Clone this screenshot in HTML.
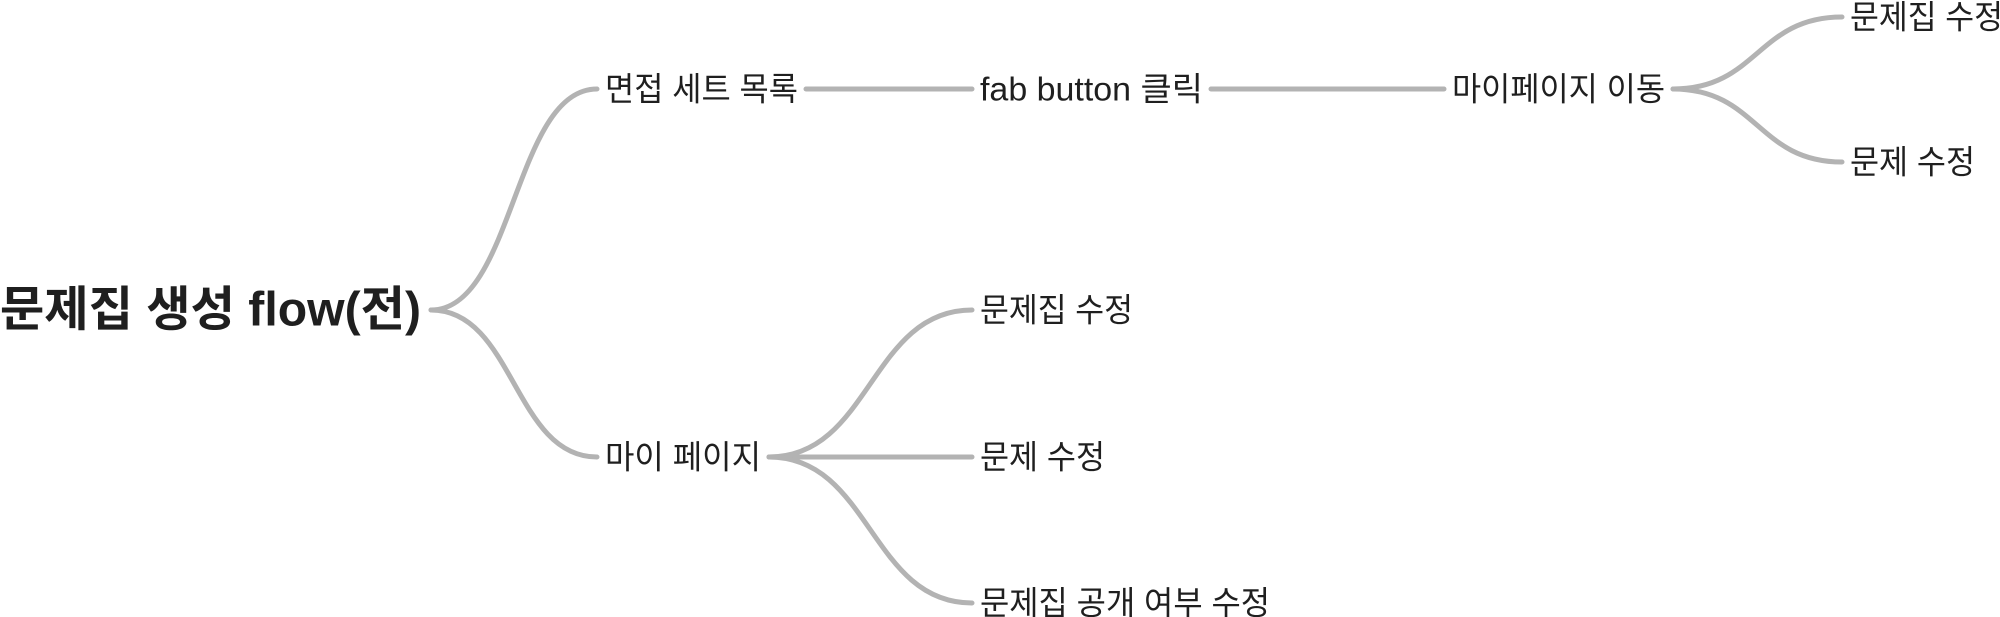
<!DOCTYPE html>
<html><head><meta charset="utf-8"><style>
html,body{margin:0;padding:0;background:#fff;width:2000px;height:617px;overflow:hidden}
svg{display:block}
text{font-family:"Liberation Sans","Noto Sans CJK KR",sans-serif;fill:#1f1f1f;dominant-baseline:central}
</style></head><body>
<svg id="map" width="2000" height="617" viewBox="0 0 2000 617" xmlns="http://www.w3.org/2000/svg">
<text x="0" y="310" font-size="48" font-weight="bold" textLength="421" lengthAdjust="spacingAndGlyphs">문제집 생성 flow(전)</text>
</svg>
<script>
const labels = ["면접 세트 목록","마이 페이지","fab button 클릭","마이페이지 이동","문제집 수정","문제 수정","문제집 수정","문제 수정","문제집 공개 여부 수정"];
const names = ["interview-set-list-node","my-page-node","fab-button-click-node","go-to-mypage-node","mypage-edit-set-node","mypage-edit-question-node","edit-set-node","edit-question-node","edit-visibility-node"];
const nodeX = [605,605,980,1452,1850,1850,980,980,980];
const nodeY = [89,457,89,89,17,162,310,457,603];
const widths = [193,156,223,213,153,125,153,125,290];
const parents = [-1,-1,0,2,3,3,1,1,1];
const svg = document.getElementById('map');
const NS = 'http://www.w3.org/2000/svg';
const rootEnd = {x:431,y:310};
function edge(x1,y1,x2,y2,name){
  const p = document.createElementNS(NS,'path');
  const mx = (x1+x2)/2;
  p.setAttribute('d',`M${x1},${y1} C${mx},${y1} ${mx},${y2} ${x2},${y2}`);
  p.setAttribute('fill','none');
  p.setAttribute('stroke','#b3b3b3');
  p.setAttribute('stroke-width','5');
  p.setAttribute('stroke-linecap','round');
  
  
  svg.appendChild(p);
}
for(let i=0;i<labels.length;i++){
  const par = parents[i];
  const sx = par<0 ? rootEnd.x : nodeX[par]+widths[par]+8;
  const sy = par<0 ? rootEnd.y : nodeY[par];
  edge(sx,sy,nodeX[i]-8,nodeY[i],names[i]+'-edge');
  const t = document.createElementNS(NS,'text');
  t.setAttribute('x',nodeX[i]);
  t.setAttribute('y',nodeY[i]);
  t.setAttribute('font-size','33');
  t.setAttribute('textLength',widths[i]);
  t.setAttribute('lengthAdjust','spacingAndGlyphs');
  t.textContent = labels[i];
  
  
  svg.appendChild(t);
}
</script>
</body></html>
